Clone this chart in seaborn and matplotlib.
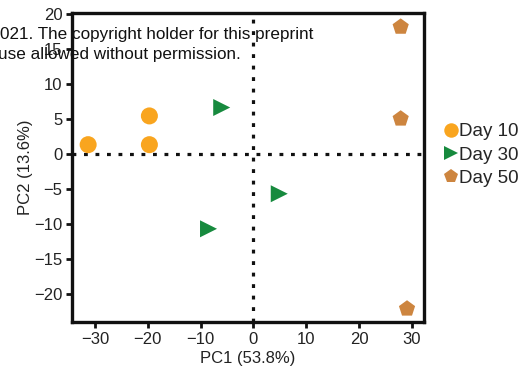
import matplotlib
matplotlib.use("Agg")
import matplotlib.pyplot as plt
import seaborn as sns
import pandas as pd

# PCA scores
days = ["Day 10", "Day 10", "Day 10",
        "Day 30", "Day 30", "Day 30",
        "Day 50", "Day 50", "Day 50"]
pc1 = [-31.3, -19.7, -19.7, -6.0, 4.9, -8.5, 27.9, 27.9, 29.1]
pc2 = [1.3, 5.4, 1.3, 6.6, -5.7, -10.7, 18.1, 5.0, -22.1]

group_order = ["Day 10", "Day 30", "Day 50"]
group_colors = {"Day 10": "#F9A51F", "Day 30": "#178A3E", "Day 50": "#CD853F"}
group_markers = {"Day 10": "o", "Day 30": ">", "Day 50": "p"}

x_ticks = [-30, -20, -10, 0, 10, 20, 30]
y_ticks = [-20, -15, -10, -5, 0, 5, 10, 15, 20]

df = pd.DataFrame({"PC1": pc1, "PC2": pc2, "group": days})

sns.set_style("ticks")
plt.rcParams["font.family"] = ["Liberation Sans", "DejaVu Sans"]

fig = plt.figure(figsize=(5.24, 3.78), dpi=100)
ax = fig.add_axes([0.138, 0.148, 0.671, 0.818])

# reference lines through the origin
ax.axvline(0, color="#111111", lw=2.3, ls=(0, (1.2, 2.4)), zorder=1)
ax.axhline(0, color="#111111", lw=2.3, ls=(0, (1.2, 2.4)), zorder=1)

sns.scatterplot(data=df, x="PC1", y="PC2", hue="group", style="group",
                hue_order=group_order, style_order=group_order,
                palette=group_colors, markers=group_markers,
                s=150, linewidth=0, ax=ax, zorder=3)

ax.set_xlim(-34.3, 32.3)
ax.set_ylim(-24.0, 20.1)
ax.set_xticks(x_ticks)
ax.set_yticks(y_ticks)
ax.set_xlabel("PC1 (53.8%)", fontsize=12, color="#222222", labelpad=3)
ax.set_ylabel("PC2 (13.6%)", fontsize=12, color="#222222", labelpad=1)
ax.tick_params(labelsize=12, length=4, width=2, color="#111111",
               labelcolor="#222222", pad=3)
for sp in ax.spines.values():
    sp.set_linewidth(2.4)
    sp.set_color("#111111")

leg = ax.legend(loc="center left", bbox_to_anchor=(1.0, 0.54), frameon=False,
                fontsize=13.5, handletextpad=-0.25, borderaxespad=0.4,
                labelspacing=0.33, handlelength=1.3, markerscale=0.85)

# bioRxiv watermark overlapping the panel
fig.text(0.0, 0.898, "021. The copyright holder for this preprint",
         fontsize=12.3, color="#111111", zorder=10)
fig.text(-0.003, 0.843, "use allowed without permission.",
         fontsize=12.3, color="#111111", zorder=10)

fig.savefig("out.png", dpi=100)
plt.close(fig)
